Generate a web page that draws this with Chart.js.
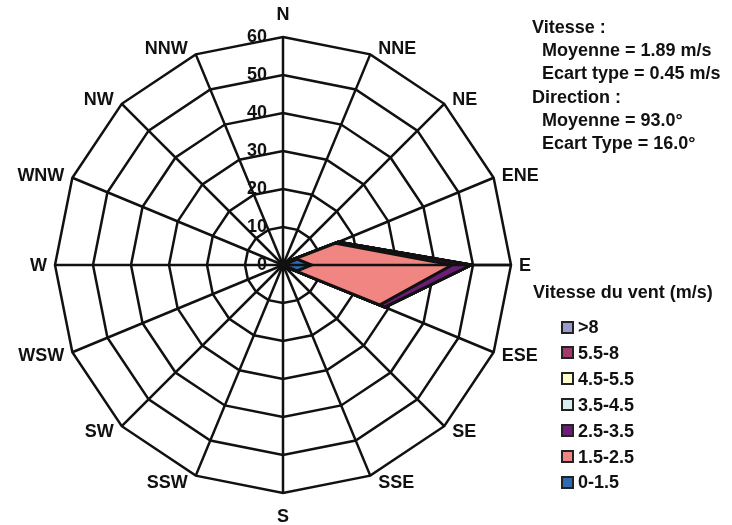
<!DOCTYPE html>
<html>
<head>
<meta charset="UTF-8">
<title>Rose des vents</title>
<script src="https://cdn.jsdelivr.net/npm/chart.js@4.4.0/dist/chart.umd.min.js"></script>
<style>
  body { margin: 0; background: #fff; }
  #wrap { position: relative; width: 732px; height: 525px; font-family: "Liberation Sans", Arial, sans-serif; font-weight: bold; color: #111; }
  #chart { position: absolute; left: 0; top: 0; }
  .txt { position: absolute; font-size: 18px; line-height: 20px; white-space: nowrap; }
  .sw { position: absolute; width: 13px; height: 13px; box-sizing: border-box; border: 2px solid #222; }
</style>
<script>
// directions (clockwise from north)
var directions = ['N','NNE','NE','ENE','E','ESE','SE','SSE','S','SSW','SW','WSW','W','WNW','NW','NNW'];

// frequency (%) per speed class, one value per direction
var v0_15   = [0, 0, 0,   4,   7.5, 4,   0,   0, 0, 0, 0, 0, 0, 0, 0, 0];
var v15_25  = [0, 0, 1,  11,  37,  23.5, 0.5, 0, 0, 0, 0, 0, 0, 0, 0, 0];
var v25_35  = [0, 0, 0,   0.7, 5,   1.5, 0,   0, 0, 0, 0, 0, 0, 0, 0, 0];
var v35_45  = [0, 0, 0, 0, 0, 0, 0, 0, 0, 0, 0, 0, 0, 0, 0, 0];
var v45_55  = [0, 0, 0, 0, 0, 0, 0, 0, 0, 0, 0, 0, 0, 0, 0, 0];
var v55_8   = [0, 0, 0, 0, 0, 0, 0, 0, 0, 0, 0, 0, 0, 0, 0, 0];
var v8      = [0, 0, 0, 0, 0, 0, 0, 0, 0, 0, 0, 0, 0, 0, 0, 0];

var classLabels = ['0-1.5','1.5-2.5','2.5-3.5','3.5-4.5','4.5-5.5','5.5-8','>8'];
var classColors = ['#2e6cb2','#f08581','#6b1d78','#d9eeee','#ffffcc','#a33a6c','#9a9acd'];

var tickValues = [0, 10, 20, 30, 40, 50, 60];

var statLines = [
  ['Vitesse :', 0],
  ['Moyenne = 1.89 m/s', 1],
  ['Ecart type = 0.45 m/s', 1],
  ['Direction :', 0],
  ['Moyenne = 93.0°', 1],
  ['Ecart Type = 16.0°', 1]
];
</script>
</head>
<body>
<div id="wrap">
  <canvas id="chart" width="732" height="525"></canvas>
</div>
<script>
  var wrap = document.getElementById('wrap');
  var series = [v0_15, v15_25, v25_35, v35_45, v45_55, v55_8, v8];

  // stacked (cumulative) values, the smallest class drawn on top
  var datasets = [];
  var running = directions.map(function(){ return 0; });
  for (var k = 0; k < series.length; k++) {
    running = running.map(function(v, i){ return v + series[k][i]; });
    datasets.push({
      label: classLabels[k],
      data: running.slice(),
      backgroundColor: classColors[k],
      borderColor: '#111',
      borderWidth: 3,
      fill: true,
      pointRadius: 0,
      pointHoverRadius: 0
    });
  }

  var labelFont = 'bold 18px "Liberation Sans", Arial, sans-serif';

  var roseLabels = {
    id: 'roseLabels',
    afterDraw: function(chart) {
      var scale = chart.scales.r;
      var ctx = chart.ctx;
      var r = scale.drawingArea;
      ctx.save();
      // east axis line stays visible over the fill
      var pe = scale.getPointPosition(directions.indexOf('E'), r);
      ctx.strokeStyle = '#111';
      ctx.lineWidth = 2.5;
      ctx.beginPath();
      ctx.moveTo(scale.xCenter, scale.yCenter);
      ctx.lineTo(pe.x, pe.y);
      ctx.stroke();

      ctx.font = labelFont;
      ctx.fillStyle = '#111';
      ctx.textBaseline = 'middle';
      directions.forEach(function(d, i) {
        var p = scale.getPointPosition(i, r);
        var sx = (p.x - scale.xCenter) / r;
        var cy = (scale.yCenter - p.y) / r;
        var x = p.x, y;
        if (Math.abs(sx) < 0.1) {
          ctx.textAlign = 'center';
          y = p.y - 23 * cy;
        } else {
          ctx.textAlign = sx > 0 ? 'left' : 'right';
          x = p.x + (sx > 0 ? 8 : -8);
          y = p.y - 6.5 * cy;
        }
        ctx.fillText(d, x, y + 1);
      });
      ctx.textAlign = 'right';
      tickValues.forEach(function(v) {
        var y = scale.yCenter - scale.getDistanceFromCenterForValue(v);
        ctx.fillText(String(v), scale.xCenter - 16, y);
      });
      ctx.restore();
    }
  };

  new Chart(document.getElementById('chart'), {
    type: 'radar',
    data: { labels: directions, datasets: datasets },
    options: {
      responsive: false,
      animation: false,
      layout: { padding: { left: 55, top: 37, right: 221, bottom: 32 } },
      plugins: { legend: { display: false }, tooltip: { enabled: false } },
      elements: { line: { tension: 0 } },
      scales: {
        r: {
          min: 0,
          max: 60,
          ticks: { display: false, stepSize: 10 },
          pointLabels: { display: false },
          grid: { color: '#111', lineWidth: 2.5, circular: false },
          angleLines: { color: '#111', lineWidth: 2.5 }
        }
      }
    },
    plugins: [roseLabels]
  });

  // statistics block
  var statY = [26.5, 50, 73, 96.5, 120, 143];
  statLines.forEach(function(s, i) {
    var d = document.createElement('div');
    d.className = 'txt';
    d.textContent = s[0];
    d.style.left = (s[1] ? 542 : 532) + 'px';
    d.style.top = (statY[i] - 10) + 'px';
    wrap.appendChild(d);
  });

  // legend
  var t = document.createElement('div');
  t.className = 'txt';
  t.style.left = '533px';
  t.style.top = '282px';
  t.textContent = 'Vitesse du vent (m/s)';
  wrap.appendChild(t);
  for (var j = classLabels.length - 1; j >= 0; j--) {
    var row = classLabels.length - 1 - j;
    var yc = 327 + row * 25.9;
    var sw = document.createElement('div');
    sw.className = 'sw';
    sw.style.left = '561px';
    sw.style.top = (yc - 6.5) + 'px';
    sw.style.background = classColors[j];
    wrap.appendChild(sw);
    var lb = document.createElement('div');
    lb.className = 'txt';
    lb.style.left = '578px';
    lb.style.top = (yc - 10) + 'px';
    lb.textContent = classLabels[j];
    wrap.appendChild(lb);
  }
</script>
</body>
</html>
